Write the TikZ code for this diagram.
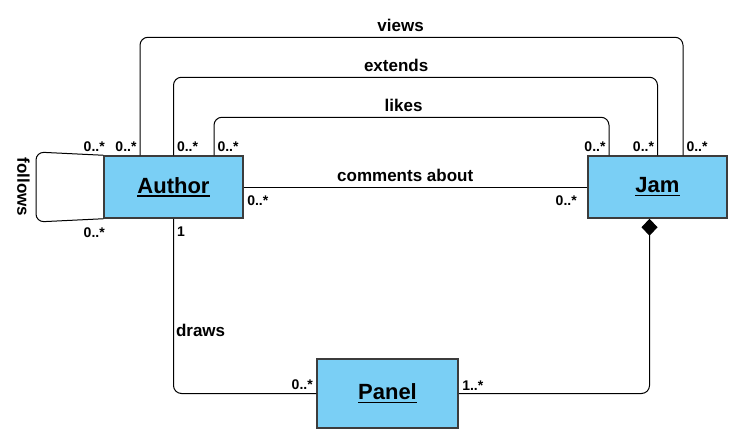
\documentclass[tikz,border=0pt]{standalone}
\usepackage{fontspec}
\setmainfont{Liberation Sans}
\usetikzlibrary{arrows.meta}
\definecolor{classblue}{RGB}{122,207,245}
\definecolor{classline}{RGB}{60,60,60}
\newcommand{\clsname}[1]{\vtop{\hbox{#1}\kern2pt\hrule height 1.6pt}}

\begin{document}
\begin{tikzpicture}[x=1pt,y=-1pt]
      \tikzset{class/.style={draw=classline, line width=1.5pt, fill=classblue, minimum width=139pt, minimum height=62pt, inner sep=0pt, font=\bfseries\fontsize{22}{24}\selectfont},
        assoc/.style={draw=black, line width=1pt, rounded corners=8pt},
        role/.style={font=\bfseries\fontsize{17}{19}\selectfont, inner sep=5pt},
        mult/.style={font=\bfseries\fontsize{14}{16}\selectfont, inner sep=3pt},
        multlow/.style={mult, yshift=-5pt}}
      \useasboundingbox (0,0) rectangle (743,447);
%% Classes
      \node[class] (author) at (173.5,187) {\clsname{Author}};
      \node[class] (jam) at (657.5,187) {\clsname{Jam}};
      \node[class, minimum width=141pt, minimum height=69pt] (panel) at (387.5,393.5) {\clsname{Panel}};
%% Associations
	%Author - Jam
		\draw[assoc] ([xshift=-33.5pt]author.north) node[mult, above left] {0..*} -- ++(0,-118)
			-| node[pos=0.24, role, above] {views} ([xshift=25.5pt]jam.north) node[mult, above right] {0..*};
		\draw[assoc] (author.north) node[mult, above right] {0..*} -- ++(0,-78)
			-| node[pos=0.23, role, above] {extends} (jam.north) node[mult, above left] {0..*};
		\draw[assoc] ([xshift=40.5pt]author.north) node[mult, above right] {0..*} -- ++(0,-38)
			-| node[pos=0.24, role, above] {likes} ([xshift=-48.5pt]jam.north) node[mult, above left] {0..*};
		\draw[assoc] (author.east) node[multlow, below right] {0..*}
			-- node[pos=0.47, role, above] {comments about} (jam.west) node[multlow, below left, xshift=-7pt] {0..*};
	%Author - Author
		\draw[assoc] (author.north west) node[mult, above left, xshift=5pt] {0..*} -- (36,152) -- (36,222)
			-- (author.south west) node[multlow, below left, xshift=5pt] {0..*};
		\node[role, rotate=-90] (follows) at (23.5,187) {follows};
	%Panel
		\draw[assoc] (author.south) node[multlow, below right] {1}
			|- node[pos=0.32, role, right, inner sep=2pt] {draws} (panel.west) node[mult, above left] {0..*};
		\draw[assoc, {Diamond[length=17pt, width=16pt]}-] ([xshift=-8pt]jam.south)
			|- (panel.east) node[mult, above right] {1..*};

	\end{tikzpicture}
\end{document}
